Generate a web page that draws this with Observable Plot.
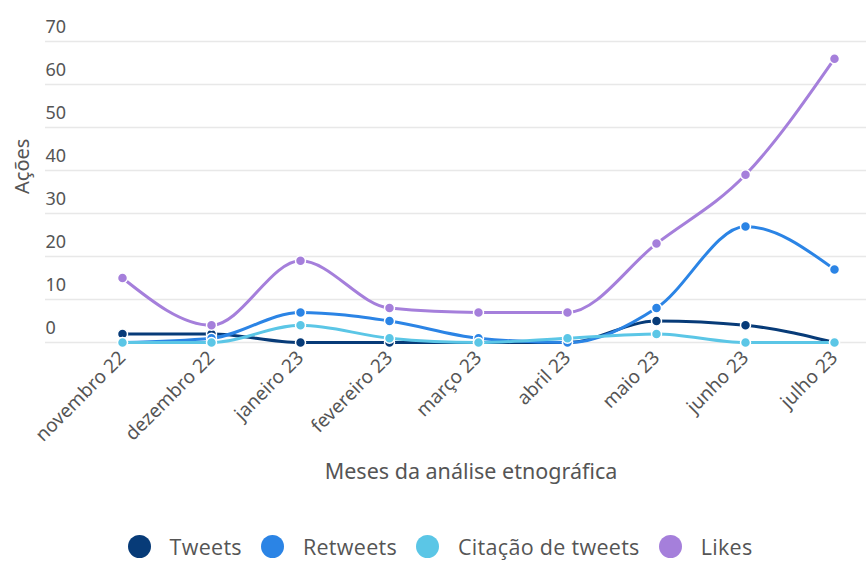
<!DOCTYPE html>
<html><head><meta charset="utf-8">
<script src="https://cdn.jsdelivr.net/npm/d3@7"></script>
<script src="https://cdn.jsdelivr.net/npm/@observablehq/plot@0.6"></script>
<style>
body{margin:0;background:#fff;font-family:"Noto Sans",sans-serif;}
#legend{display:flex;justify-content:center;align-items:center;margin-top:12px;margin-left:14px;font-family:"Open Sans",sans-serif;font-size:21.5px;letter-spacing:0.3px;color:#555;line-height:1.2;}
#legend .it{display:flex;align-items:center;margin:0 9.5px;}
#legend .sw{width:23px;height:23px;border-radius:50%;margin-right:19px;}
</style></head><body>
<div id="chart"></div>
<div id="legend"></div>
<script>
const months = ["novembro 22","dezembro 22","janeiro 23","fevereiro 23","março 23","abril 23","maio 23","junho 23","julho 23"];
const seriesNames = ["Tweets","Retweets","Citação de tweets","Likes"];
const seriesColors = ["#073b78","#2b84e5","#5bc6e6","#a57fdb"];
const tweets   = [2, 2, 0, 0, 0, 0, 5, 4, 0];
const retweets = [0, 1, 7, 5, 1, 0, 8, 27, 17];
const citacoes = [0, 0, 4, 1, 0, 1, 2, 0, 0];
const likes    = [15, 4, 19, 8, 7, 7, 23, 39, 66];
const yTicks = [0,10,20,30,40,50,60,70];

const all = [tweets, retweets, citacoes, likes];
const data = [];
all.forEach((vals, si) => vals.forEach((v, i) => data.push({serie: seriesNames[si], mes: months[i], valor: v})));

const W = 866, H = 522;
const chart = Plot.plot({
  width: W, height: H,
  marginLeft: 45, marginRight: 0, marginTop: 41, marginBottom: H - 342,
  style: {fontFamily: "'Noto Sans', sans-serif", color: "#555", background: "#fff"},
  x: {type: "point", domain: months, range: [122, 834], padding: 0},
  y: {domain: [0, 70]},
  color: {domain: seriesNames, range: seriesColors},
  marks: [
    Plot.ruleY(yTicks, {stroke: "#e8e8e8", strokeWidth: 1.6}),
    Plot.axisY(yTicks, {anchor: "left", tickSize: 0, tickPadding: 0, textAnchor: "start", dy: -14, fontSize: 18, fill: "#555", label: null}),
    Plot.text(["Ações"], {frameAnchor: "left", dx: -23, dy: 2, rotate: -90, fontSize: 20, fill: "#555"}),
    Plot.axisX({tickSize: 0, tickPadding: 12, tickRotate: -45, fontSize: 19, fill: "#555", label: null}),
    Plot.text(["Meses da análise etnográfica"], {frameAnchor: "bottom", dx: 15, dy: 136, fontSize: 21.5, fill: "#555"}),
    Plot.line(data, {x: "mes", y: "valor", z: "serie", stroke: "serie", strokeWidth: 3, curve: "monotone-x"}),
    Plot.dot(data, {x: "mes", y: "valor", fill: "serie", stroke: "#fff", strokeWidth: 1.5, r: 5})
  ]
});
document.getElementById("chart").appendChild(chart);

const leg = document.getElementById("legend");
seriesNames.forEach((n, i) => {
  const it = document.createElement("div"); it.className = "it";
  const sw = document.createElement("div"); sw.className = "sw"; sw.style.background = seriesColors[i];
  const t = document.createElement("span"); t.textContent = n;
  it.appendChild(sw); it.appendChild(t); leg.appendChild(it);
});
</script></body></html>
